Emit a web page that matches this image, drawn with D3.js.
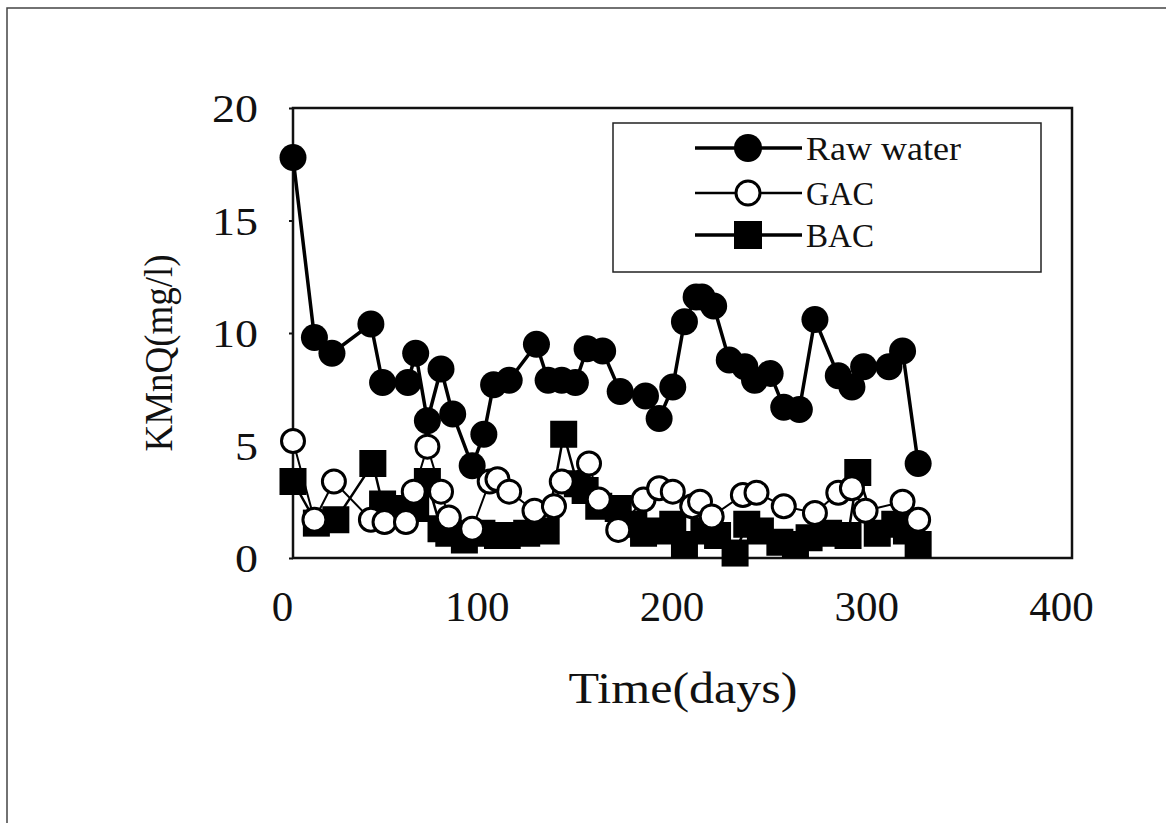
<!DOCTYPE html>
<html>
<head>
<meta charset="utf-8">
<script src="https://cdn.jsdelivr.net/npm/d3@7"></script>
<style>
  body { margin: 0; background: #fff; }
  text { font-family: "Liberation Serif", "DejaVu Serif", serif; fill: #111; }
</style>
</head>
<body>
<div class="chart"></div>
<script>
// KMnO4 consumption over time, raw water vs GAC vs BAC
const rawDays = [0, 11, 20, 40, 46, 59, 63, 69, 76, 82, 92, 98, 103, 111, 125, 131, 138, 145, 151, 159, 168, 181, 188, 195, 201, 207, 210, 216, 224, 232, 237, 245, 252, 260, 268, 280, 287, 293, 306, 313, 321]
const rawVals = [17.8, 9.8, 9.1, 10.4, 7.8, 7.8, 9.1, 6.1, 8.4, 6.4, 4.1, 5.5, 7.7, 7.9, 9.5, 7.9, 7.9, 7.8, 9.3, 9.2, 7.4, 7.2, 6.2, 7.6, 10.5, 11.6, 11.6, 11.2, 8.8, 8.5, 7.9, 8.2, 6.7, 6.6, 10.6, 8.1, 7.6, 8.5, 8.5, 9.2, 4.2]

const gacDays = [0, 11, 21, 40, 47, 58, 62, 69, 76, 80, 92, 101, 105, 111, 124, 134, 138, 152, 157, 167, 180, 188, 195, 205, 209, 215, 231, 238, 252, 268, 280, 287, 294, 313, 321]
const gacVals = [5.2, 1.7, 3.4, 1.7, 1.6, 1.6, 2.95, 4.95, 2.95, 1.8, 1.3, 3.4, 3.5, 2.95, 2.1, 2.3, 3.4, 4.2, 2.6, 1.25, 2.6, 3.1, 2.95, 2.3, 2.5, 1.85, 2.8, 2.9, 2.3, 2.0, 2.9, 3.1, 2.1, 2.5, 1.7]

const bacDays = [0, 12, 22, 41, 46, 52, 63, 69, 76, 80, 88, 97, 105, 110, 120, 130, 139, 146, 150, 157, 167, 175, 180, 188, 195, 201, 211, 218, 227, 233, 240, 250, 258, 265, 275, 285, 290, 300, 309, 315, 321]
const bacVals = [3.4, 1.55, 1.7, 4.2, 2.4, 2.2, 2.2, 3.4, 1.3, 1.1, 0.8, 1.1, 1.0, 1.0, 1.1, 1.2, 5.5, 3.3, 3.0, 2.3, 2.2, 1.5, 1.1, 1.2, 1.5, 0.6, 1.2, 1.0, 0.22, 1.5, 1.2, 0.7, 0.6, 0.9, 1.1, 1.0, 3.8, 1.1, 1.5, 1.2, 0.6]

const seriesNames = ['Raw water', 'GAC', 'BAC']
const xTicks = [0, 100, 200, 300, 400]
const yTicks = [0, 5, 10, 15, 20]

let svg = d3.select('.chart')
.append('svg')
.attr('width', 1166)
.attr('height', 823)

// outer frame (only top and left edges visible in the scan)
svg.append('path')
.attr('d', 'M7,823V8H1166')
.style('fill', 'none')
.style('stroke', '#444')
.style('stroke-width', 1.5)

let x = d3.scaleLinear().domain([0, 400]).range([293, 1072])
let y = d3.scaleLinear().domain([0, 20]).range([558, 108])

// plot box
svg.append('rect')
.attr('x', x(0)).attr('y', y(20))
.attr('width', x(400) - x(0)).attr('height', y(0) - y(20))
.style('fill', 'none')
.style('stroke', '#111')
.style('stroke-width', 2.5)

// axes
let xAxis = svg.append('g')
.attr('transform', `translate(0,${y(0)})`)
.call(d3.axisBottom(x).tickValues(xTicks).tickSize(0).tickPadding(50))
xAxis.select('.domain').remove()
xAxis.selectAll('text')
.attr('dx', -11)
.attr('dy', '0.3em')
.attr('textLength', d => String(d).length * 21.5)
.attr('lengthAdjust', 'spacingAndGlyphs')
.style('font-size', '42px')

let yAxis = svg.append('g')
.attr('transform', `translate(${x(0)},0)`)
.call(d3.axisLeft(y).tickValues(yTicks).tickSize(4).tickPadding(31))
yAxis.select('.domain').remove()
yAxis.selectAll('line').style('stroke', '#111').style('stroke-width', 2)
yAxis.selectAll('text')
.attr('dy', '0.33em')
.attr('textLength', d => String(d).length * 23)
.attr('lengthAdjust', 'spacingAndGlyphs')
.style('font-size', '41px')

svg.append('text')
.attr('x', 683).attr('y', 703)
.attr('text-anchor', 'middle')
.attr('textLength', 229)
.attr('lengthAdjust', 'spacingAndGlyphs')
.style('font-size', '44px')
.text('Time(days)')

svg.append('text')
.attr('transform', 'translate(172,353) rotate(-90)')
.attr('text-anchor', 'middle')
.attr('textLength', 197)
.attr('lengthAdjust', 'spacingAndGlyphs')
.style('font-size', '39px')
.text('KMnQ(mg/l)')

// series
function toPoints(days, vals) {
	return days.map((d, i) => [d, vals[i]])
}
let raw = toPoints(rawDays, rawVals)
let gac = toPoints(gacDays, gacVals)
let bac = toPoints(bacDays, bacVals)

let line = d3.line()
.x(d => x(d[0]))
.y(d => y(d[1]))

let plot = svg.append('g')

plot.append('path').datum(bac).attr('d', line)
.style('fill', 'none').style('stroke', '#000').style('stroke-width', 2.5)
plot.append('path').datum(gac).attr('d', line)
.style('fill', 'none').style('stroke', '#000').style('stroke-width', 2)
plot.append('path').datum(raw).attr('d', line)
.style('fill', 'none').style('stroke', '#000').style('stroke-width', 3.5)

plot.append('g').selectAll('rect')
.data(bac)
.enter()
.append('rect')
.attr('x', d => x(d[0]) - 13.5)
.attr('y', d => y(d[1]) - 13.5)
.attr('width', 27).attr('height', 27)
.style('fill', '#000')

plot.append('g').selectAll('circle')
.data(gac)
.enter()
.append('circle')
.attr('cx', d => x(d[0]))
.attr('cy', d => y(d[1]))
.attr('r', 11.5)
.style('fill', '#fff')
.style('stroke', '#000')
.style('stroke-width', 3)

plot.append('g').selectAll('circle')
.data(raw)
.enter()
.append('circle')
.attr('cx', d => x(d[0]))
.attr('cy', d => y(d[1]))
.attr('r', 13.5)
.style('fill', '#000')

// legend
let legend = svg.append('g')
legend.append('rect')
.attr('x', 613).attr('y', 123)
.attr('width', 428).attr('height', 149)
.style('fill', '#fff')
.style('stroke', '#222')
.style('stroke-width', 1.5)

let rowsY = [148, 193, 235]
let textLen = [155, 68, 68]
seriesNames.forEach((name, i) => {
	let ry = rowsY[i]
	legend.append('line')
	.attr('x1', 695).attr('x2', 802)
	.attr('y1', ry).attr('y2', ry)
	.style('stroke', '#000')
	.style('stroke-width', i === 1 ? 2.5 : 3.5)
	if (i === 0) {
		legend.append('circle').attr('cx', 748).attr('cy', ry).attr('r', 14)
		.style('fill', '#000')
	} else if (i === 1) {
		legend.append('circle').attr('cx', 748).attr('cy', ry).attr('r', 12)
		.style('fill', '#fff').style('stroke', '#000').style('stroke-width', 3)
	} else {
		legend.append('rect').attr('x', 734).attr('y', ry - 14).attr('width', 28).attr('height', 28)
		.style('fill', '#000')
	}
	legend.append('text')
	.attr('x', 806).attr('y', ry)
	.attr('dy', '0.35em')
	.attr('textLength', textLen[i])
	.attr('lengthAdjust', 'spacingAndGlyphs')
	.style('font-size', '33px')
	.text(name)
})
</script>
</body>
</html>
